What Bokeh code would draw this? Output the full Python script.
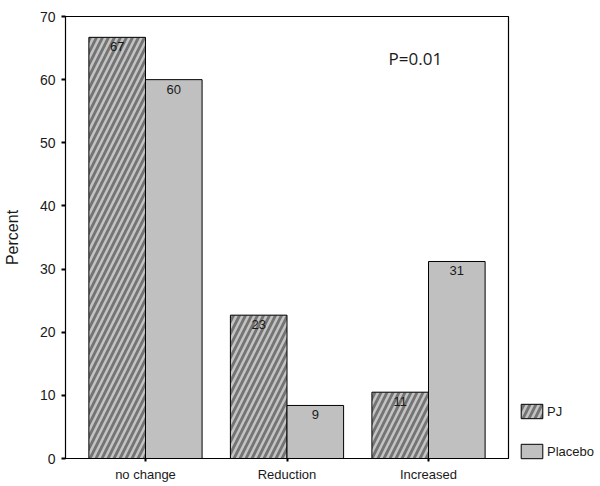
from bokeh.plotting import figure
from bokeh.models import ColumnDataSource, FactorRange, Legend, LegendItem, Label, FixedTicker
from bokeh.transform import dodge
from bokeh.core.properties import value
from bokeh.embed import file_html
from bokeh.resources import INLINE

categories = ["no change", "Reduction", "Increased"]
pj = [66.7, 22.7, 10.5]
placebo = [60.0, 8.4, 31.2]
pj_labels = ["67", "23", "11"]
placebo_labels = ["60", "9", "31"]
y_ticks = [0, 10, 20, 30, 40, 50, 60, 70]

src = ColumnDataSource(dict(cat=categories, pj=pj, placebo=placebo,
                            pj_lab=pj_labels, pl_lab=placebo_labels))

FONT = "Liberation Sans"

p = figure(x_range=FactorRange(factors=categories, range_padding=0.0435),
           y_range=(0, 70), frame_width=443, frame_height=442,
           output_backend="svg", toolbar_location=None,
           min_border_left=65, min_border_top=16, min_border_bottom=0, min_border_right=0)
p.background_fill_color = "white"
p.border_fill_color = "white"
p.outline_line_color = "black"
p.outline_line_width = 1.2
p.xgrid.visible = False
p.ygrid.visible = False

r_pj = p.vbar(x=dodge("cat", -0.2, range=p.x_range), top="pj", width=0.4, source=src,
              fill_color="#747474", line_color="black", line_width=1,
              hatch_pattern="/", hatch_color="#c4c4c4", hatch_scale=12, hatch_weight=2.5)
r_pl = p.vbar(x=dodge("cat", 0.2, range=p.x_range), top="placebo", width=0.4, source=src,
              fill_color="#c0c0c0", line_color="black", line_width=1)

p.text(x=dodge("cat", -0.2, range=p.x_range), y="pj", text="pj_lab", source=src,
       text_align="center", text_baseline="top", y_offset=5,
       text_font=value(FONT), text_font_size="13px", text_color="#1a1a1a")
p.text(x=dodge("cat", 0.2, range=p.x_range), y="placebo", text="pl_lab", source=src,
       text_align="center", text_baseline="top", y_offset=5,
       text_font=value(FONT), text_font_size="13px", text_color="#1a1a1a")

p.add_layout(Label(x=2.218, y=63.3, text="P=0.01", text_align="left",
                   text_baseline="middle", text_font="Open Sans", text_font_size="17px",
                   text_color="#1a1a1a"))

p.yaxis.ticker = FixedTicker(ticks=y_ticks)
p.yaxis.axis_label = "Percent"
p.yaxis.axis_label_text_font = FONT
p.yaxis.axis_label_text_font_style = "normal"
p.yaxis.axis_label_text_font_size = "16px"
p.yaxis.axis_label_text_color = "#1a1a1a"
p.yaxis.axis_label_standoff = 16
p.yaxis.major_label_text_font = FONT
p.yaxis.major_label_text_font_size = "14px"
p.yaxis.major_label_text_color = "#1a1a1a"
p.yaxis.major_label_standoff = 6
p.yaxis.major_tick_out = 4
p.yaxis.major_tick_in = 0
p.yaxis.major_tick_line_width = 2
p.yaxis.minor_tick_line_color = None
p.yaxis.axis_line_color = "black"

p.xaxis.major_label_text_font = FONT
p.xaxis.major_label_text_font_size = "13px"
p.xaxis.major_label_text_color = "#1a1a1a"
p.xaxis.major_label_standoff = 5
p.xaxis.major_tick_out = 3
p.xaxis.major_tick_in = 0
p.xaxis.major_tick_line_width = 2
p.xaxis.axis_line_color = "black"

legend = Legend(items=[LegendItem(label="PJ", renderers=[r_pj]),
                       LegendItem(label="Placebo", renderers=[r_pl])],
                location=(10, -2), glyph_width=27, glyph_height=18,
                label_standoff=2, spacing=22, padding=0, margin=0,
                border_line_color=None, background_fill_alpha=0,
                label_text_font=FONT, label_text_font_size="13px",
                label_text_color="#1a1a1a")
p.add_layout(legend, "right")

open("out.html", "w").write(file_html(p, INLINE))
